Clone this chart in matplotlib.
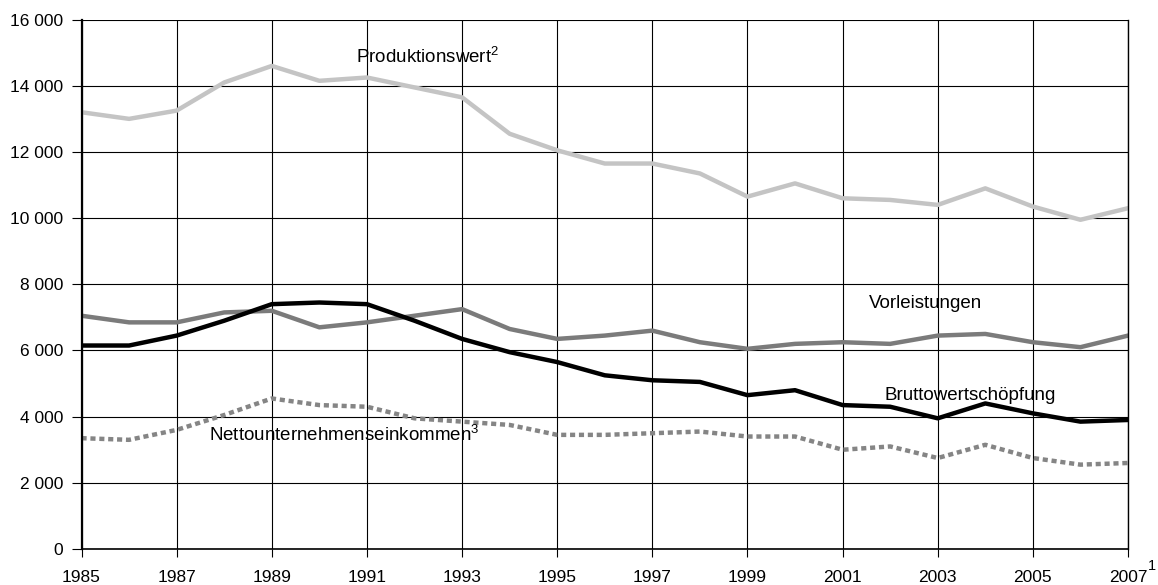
import numpy as np
from matplotlib import pyplot as plt
from matplotlib.ticker import FuncFormatter

plt.rcParams['font.family'] = ['Liberation Sans', 'DejaVu Sans']
plt.rcParams['mathtext.fontset'] = 'custom'
plt.rcParams['mathtext.rm'] = 'Liberation Sans'
plt.rcParams['mathtext.it'] = 'Liberation Sans'
plt.rcParams['mathtext.default'] = 'regular'

years = list(range(1985, 2008))
produktionswert = [13200, 13000, 13250, 14100, 14600, 14150, 14250, 13950, 13650, 12550,
                   12050, 11650, 11650, 11350, 10650, 11050, 10600, 10550, 10400, 10900,
                   10350, 9950, 10300]
vorleistungen = [7050, 6850, 6850, 7150, 7200, 6700, 6850, 7050, 7250, 6650,
                 6350, 6450, 6600, 6250, 6050, 6200, 6250, 6200, 6450, 6500,
                 6250, 6100, 6450]
bruttowert = [6150, 6150, 6450, 6900, 7400, 7450, 7400, 6900, 6350, 5950,
              5650, 5250, 5100, 5050, 4650, 4800, 4350, 4300, 3950, 4400,
              4100, 3850, 3900]
netto = [3350, 3300, 3600, 4050, 4550, 4350, 4300, 3950, 3850, 3750,
         3450, 3450, 3500, 3550, 3400, 3400, 3000, 3100, 2750, 3150,
         2750, 2550, 2600]

fig = plt.figure(figsize=(11.58, 5.85), dpi=100)
ax = fig.add_axes([0.0704, 0.0615, 0.9037, 0.905])

ax.plot(years, produktionswert, color='#c4c4c4', lw=3.2)
ax.plot(years, vorleistungen, color='#7b7b7b', lw=3.2)
ax.plot(years, bruttowert, color='#000000', lw=3.2)
ax.plot(years, netto, color='#858585', lw=3.2, linestyle=(0, (1.15, 0.85)))

ax.set_xlim(1985, 2007)
ax.set_ylim(0, 16000)
ax.set_xticks(range(1985, 2008, 2))
ax.set_yticks(range(0, 16001, 2000))
ax.yaxis.set_major_formatter(FuncFormatter(lambda v, p: f'{int(v):,}'.replace(',', ' ')))
ax.grid(True, color='black', lw=0.8)
ax.set_axisbelow(True)
ax.spines['top'].set_visible(False)
ax.spines['right'].set_linewidth(1.0)
ax.spines['left'].set_linewidth(1.6)
ax.spines['bottom'].set_linewidth(1.2)
ax.tick_params(labelsize=12.5, width=0.8, colors='black')
ax.tick_params(axis='y', length=7, pad=6)
ax.tick_params(axis='x', length=6, pad=9)

# footnote mark on the last year label
ax.text(2007.42, -520, '1', fontsize=10.5, va='center', ha='left', clip_on=False)

ax.text(1990.77, 14880, 'Produktionswert$^2$', fontsize=13.5, va='center')
ax.text(2001.55, 7420, 'Vorleistungen', fontsize=13.5, va='center')
ax.text(2001.89, 4650, 'Bruttowertschöpfung', fontsize=13.5, va='center')
ax.text(1987.67, 3450, 'Nettounternehmenseinkommen$^3$', fontsize=13.5, va='center')

plt.savefig('out.png', dpi=100)
